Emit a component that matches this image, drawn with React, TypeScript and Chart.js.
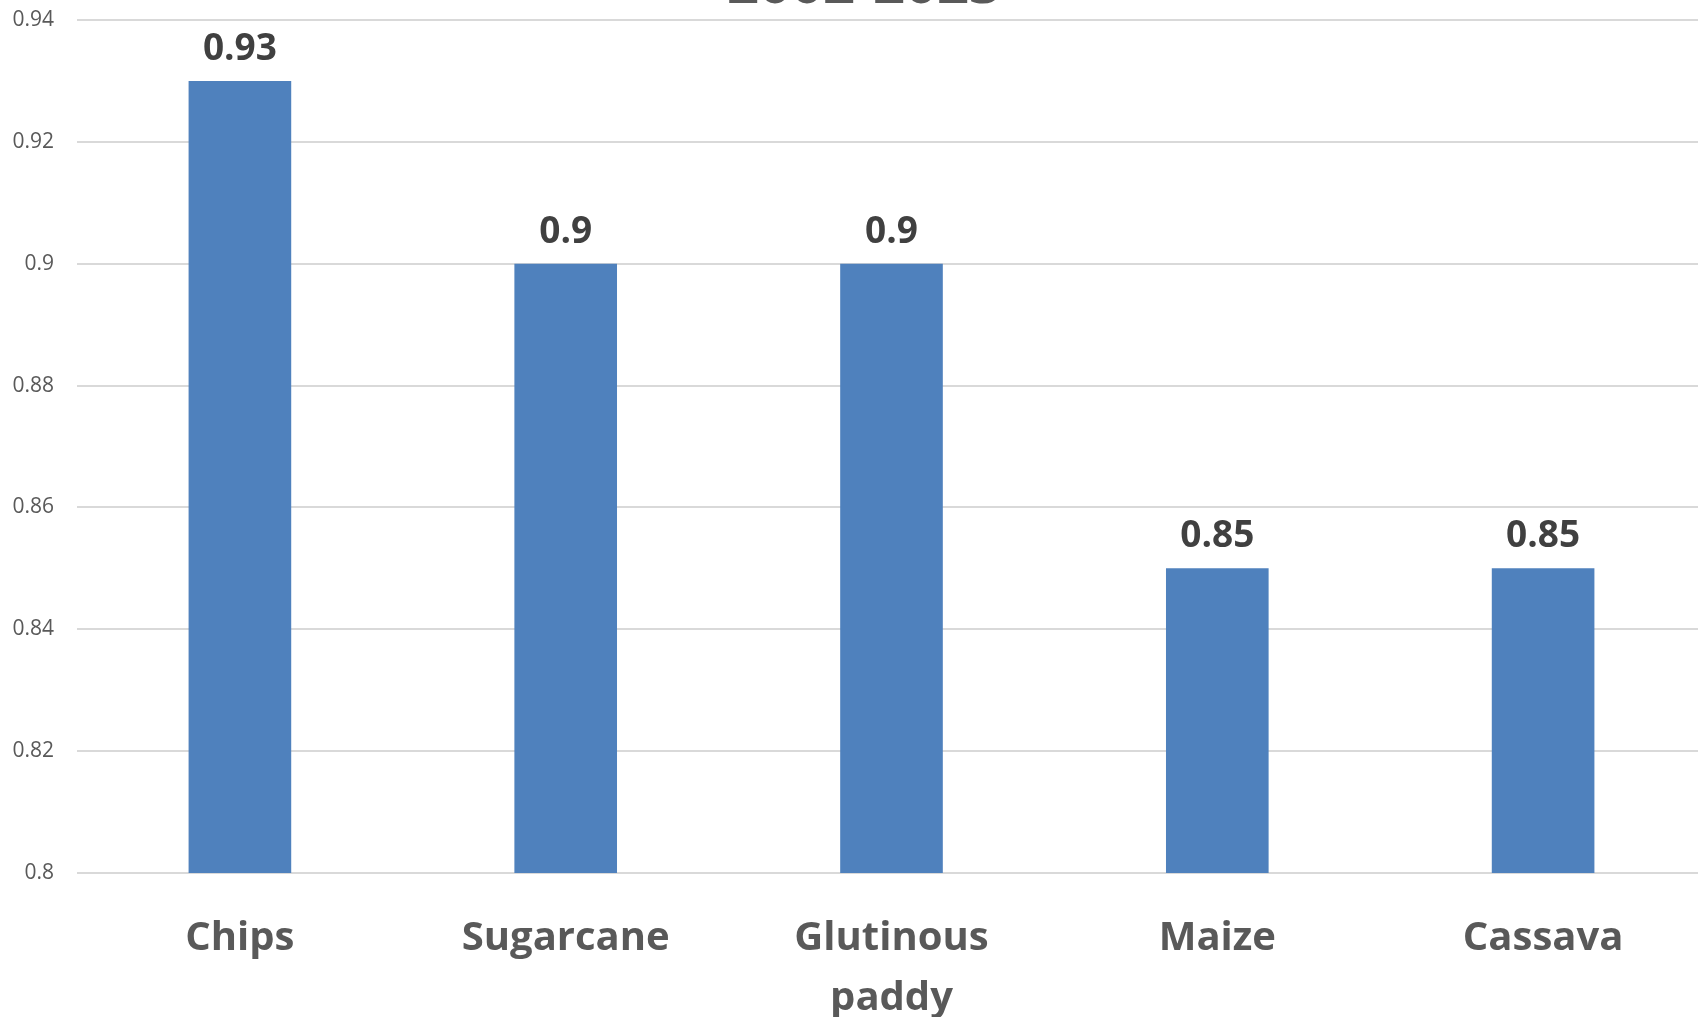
import React, { useEffect, useRef } from "react";
import { Chart, registerables } from "chart.js";

Chart.register(...registerables);

const categories: (string | string[])[] = ["Chips", "Sugarcane", ["Glutinous", "paddy"], "Maize", "Cassava"];
const values: number[] = [0.93, 0.9, 0.9, 0.85, 0.85];
const valueLabels: string[] = ["0.93", "0.9", "0.9", "0.85", "0.85"];
const titleText = "2002-2023";

const FONT = "'Open Sans', 'DejaVu Sans', sans-serif";
const CANVAS_W = 1706;
const CANVAS_H = 1017;

export default function App() {
  const ref = useRef<HTMLCanvasElement | null>(null);

  useEffect(() => {
    document.body.style.margin = "0";
    const canvas = ref.current!;
    const labelPlugin = {
      id: "valueLabels",
      afterDatasetsDraw(chart: any) {
        const ctx = chart.ctx;
        const meta = chart.getDatasetMeta(0);
        ctx.save();
        ctx.font = `bold 37px ${FONT}`;
        ctx.fillStyle = "#404040";
        ctx.textAlign = "center";
        ctx.textBaseline = "alphabetic";
        meta.data.forEach((bar: any, i: number) => {
          ctx.fillText(valueLabels[i], bar.x, bar.y - 21);
        });
        ctx.restore();
      },
    };
    const titlePlugin = {
      id: "cutTitle",
      afterDraw(chart: any) {
        const ctx = chart.ctx;
        ctx.save();
        ctx.font = `bold 56px ${FONT}`;
        ctx.fillStyle = "#595959";
        ctx.textAlign = "center";
        ctx.textBaseline = "alphabetic";
        ctx.fillText(titleText, 864, 3);
        ctx.restore();
      },
    };
    const chart = new Chart(canvas, {
      type: "bar",
      data: {
        labels: categories,
        datasets: [
          {
            data: values,
            backgroundColor: "#4f81bd",
            borderWidth: 0,
            barPercentage: 0.315,
            categoryPercentage: 1,
          },
        ],
      },
      options: {
        animation: false,
        responsive: false,
        maintainAspectRatio: false,
        layout: { padding: { top: 20, right: 0, left: 0, bottom: 0 } },
        plugins: {
          legend: { display: false },
          title: { display: false },
          tooltip: { enabled: false },
        },
        scales: {
          x: {
            grid: { display: false, drawTicks: false },
            border: { display: false },
            ticks: {
              color: "#595959",
              font: { family: FONT, size: 40, weight: "bold", lineHeight: 1.5 },
              padding: 36,
              maxRotation: 0,
              autoSkip: false,
            },
            afterFit(scale: any) {
              scale.height = 1017 - 873;
            },
          },
          y: {
            min: 0.8,
            max: 0.94,
            grid: { color: "#d9d9d9", lineWidth: 2, drawTicks: false },
            border: { display: false },
            ticks: {
              stepSize: 0.02,
              color: "#595959",
              font: { family: FONT, size: 21 },
              padding: 23,
              callback: (v: any) => String(Math.round(Number(v) * 100) / 100),
            },
            afterFit(scale: any) {
              scale.width = 77;
              scale.paddingTop = 0;
              scale.paddingBottom = 0;
            },
          },
        },
      },
      plugins: [labelPlugin, titlePlugin],
    });
    return () => chart.destroy();
  }, []);

  return (
    <div style={{ position: "fixed", left: 0, top: 0, width: 1698, height: 1017, overflow: "hidden", background: "#fff" }}>
      <canvas ref={ref} width={CANVAS_W} height={CANVAS_H} style={{ width: CANVAS_W, height: CANVAS_H, display: "block" }} />
    </div>
  );
}
